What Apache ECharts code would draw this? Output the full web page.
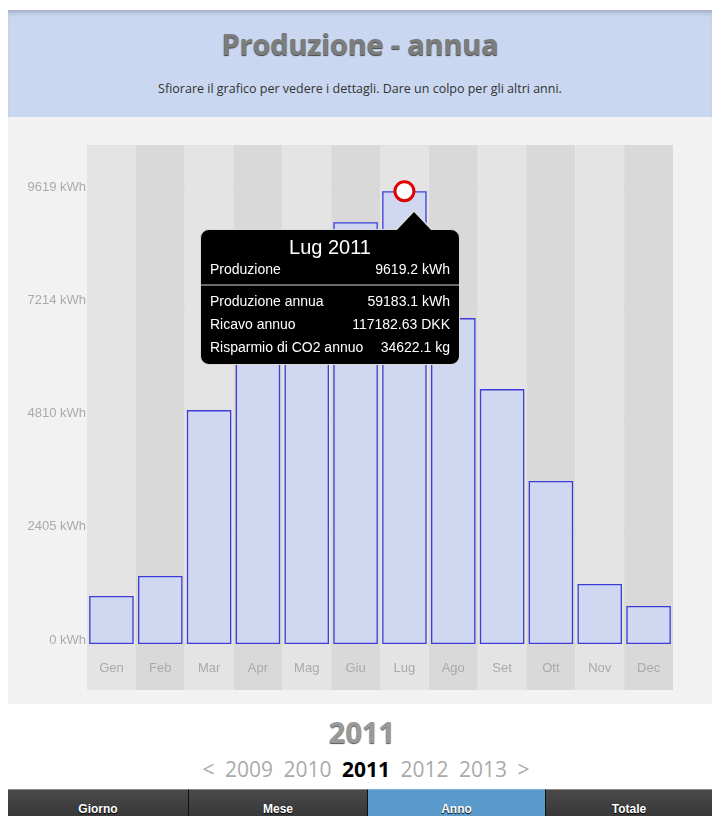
<!DOCTYPE html>
<html>
<head>
<meta charset="utf-8">
<script src="https://cdn.jsdelivr.net/npm/echarts@6/dist/echarts.min.js"></script>
<style>
  html, body { margin:0; padding:0; background:#fff; width:712px; height:816px; overflow:hidden; }
  #header { position:absolute; left:8px; top:10px; width:704px; height:107px; background:#c9d7f0;
    box-shadow: inset 0 5px 5px -3px rgba(60,70,90,0.35); }
  #title { position:absolute; left:0; width:100%; top:14px; text-align:center; font-family:"Open Sans", sans-serif;
    font-weight:700; font-size:29px; color:#7d7d7d; text-shadow:0 1px 1px #444; letter-spacing:-0.2px; }
  #subtitle { position:absolute; left:0; width:100%; top:70px; text-align:center; font-family:"Open Sans", sans-serif;
    font-size:12.5px; color:#333; }
  #panel { position:absolute; left:8px; top:117px; width:704px; height:587px; background:#f2f2f2; }
  #chart { position:absolute; left:0; top:0; width:704px; height:587px; }
  #bigyear { position:absolute; left:0; width:724px; top:712px; text-align:center; font-family:"Open Sans", sans-serif;
    font-weight:700; font-size:29px; color:#9a9a9a; text-shadow:0 1px 1px #555; }
  #years { position:absolute; left:0; width:732px; top:755px; text-align:center; font-family:"Open Sans", sans-serif;
    font-size:21px; color:#aaa; word-spacing:5px; }
  #years b { color:#000; font-weight:700; }
  #tabs { position:absolute; left:8px; top:789px; width:704px; height:40px; }
  .tab { position:absolute; top:0; height:40px; line-height:38px; text-align:center; font-family:"Liberation Sans", Arial, sans-serif;
    font-weight:700; font-size:12px; color:#fff; text-shadow:0 1px 1px #000;
    background:linear-gradient(#4a4a4a, #2e2e2e); border-top:1px solid #8a8a8a; box-sizing:border-box; }
  .tab.sep { border-left:1px solid #111; }
  .tab.active { background:#5b9bcc; border-top:1px solid #7fb3da; }
</style>
</head>
<body>
<div id="header">
  <div id="title">Produzione - annua</div>
  <div id="subtitle">Sfiorare il grafico per vedere i dettagli. Dare un colpo per gli altri anni.</div>
</div>
<div id="panel"><div id="chart"></div></div>
<div id="bigyear">2011</div>
<div id="years">&lt; 2009 2010 <b>2011</b> 2012 2013 &gt;</div>
<div id="tabs">
  <div class="tab" style="left:0;width:180px;">Giorno</div>
  <div class="tab sep" style="left:180px;width:179px;">Mese</div>
  <div class="tab sep active" style="left:359px;width:178px;">Anno</div>
  <div class="tab sep" style="left:537px;width:167px;">Totale</div>
</div>
<script>
// ---- data ----
var year = '2011';
var months = ['Gen','Feb','Mar','Apr','Mag','Giu','Lug','Ago','Set','Ott','Nov','Dec'];
var production = [1019, 1444, 4969, 7400, 7891, 8961, 9619.2, 6923, 5415, 3461, 1274, 807];
var yTicks = [0, 2404.8, 4809.6, 7214.4, 9619.2];
var yMax = 10600;
var selectedIndex = 6;
var summaryLabels = ['Produzione annua', 'Ricavo annuo', 'Risparmio di CO2 annuo'];
var summaryValues = ['59183.1 kWh', '117182.63 DKK', '34622.1 kg'];
var unit = 'kWh';

var chart = echarts.init(document.getElementById('chart'));
var gridLeft = 79, gridWidth = 586;
var font = '"Liberation Sans", Arial, sans-serif';

function tipHtml(idx) {
  var rows = '';
  for (var i = 0; i < summaryLabels.length; i++) {
    rows += '<div style="display:flex;justify-content:space-between;height:23px;line-height:23px;">' +
      '<span>' + summaryLabels[i] + '</span><span>' + summaryValues[i] + '</span></div>';
  }
  return '<div style="position:relative;font-family:' + font.replace(/"/g, "'") + ';color:#fff;">' +
    '<div style="position:absolute;left:186px;top:-25px;width:0;height:0;border-left:18px solid transparent;border-right:18px solid transparent;border-bottom:19px solid #ddd;"></div>' +
    '<div style="position:absolute;left:187px;top:-23px;width:0;height:0;border-left:17px solid transparent;border-right:17px solid transparent;border-bottom:18px solid #000;"></div>' +
    '<div style="text-align:center;font-size:20px;line-height:24px;height:24px;">' + months[idx] + ' ' + year + '</div>' +
    '<div style="display:flex;justify-content:space-between;font-size:14px;height:20px;line-height:20px;">' +
      '<span>Produzione</span><span>' + production[idx] + ' ' + unit + '</span></div>' +
    '<div style="margin:5px -9px 4px -9px;border-top:2px solid #6a6a6a;"></div>' +
    '<div style="font-size:14px;">' + rows + '</div></div>';
}

var option = {
  animation: false,
  grid: [
    { left: gridLeft, top: 28, width: gridWidth, height: 499 },
    { left: gridLeft, top: 527, width: gridWidth, height: 46 }
  ],
  xAxis: [
    { type: 'category', gridIndex: 0, data: months, z: 1,
      axisLine: { show: false }, axisTick: { show: false }, axisLabel: { show: false },
      splitArea: { show: true, interval: 0, areaStyle: { color: ['#e4e4e4', '#d9d9d9'] } } },
    { type: 'category', gridIndex: 1, data: months, z: 0,
      axisLine: { show: false }, axisTick: { show: false },
      axisLabel: { interval: 0, margin: -28, color: '#aaa', fontSize: 13, fontFamily: font },
      splitArea: { show: true, interval: 0, areaStyle: { color: ['#e4e4e4', '#d9d9d9'] } } }
  ],
  yAxis: [
    { type: 'value', gridIndex: 0, min: 0, max: yMax, interval: yTicks[1],
      axisLine: { show: false }, axisTick: { show: false },
      axisLabel: { showMaxLabel: false, margin: 1, color: '#aaa', fontSize: 13, fontFamily: font,
        verticalAlign: 'bottom', lineHeight: 8,
        formatter: function (v) { return Math.round(v) + ' ' + unit; } },
      splitLine: { show: true, showMaxLine: false, lineStyle: { color: '#ababab', width: 1 } } },
    { type: 'value', gridIndex: 1, show: false }
  ],
  tooltip: {
    trigger: 'item', triggerOn: 'none', alwaysShowContent: true, transitionDuration: 0,
    renderMode: 'html', confine: false,
    backgroundColor: '#000', borderColor: '#d8d8d8', borderWidth: 1, padding: [5, 9, 5, 9],
    extraCssText: 'border-radius:9px;box-shadow:none;width:260px;height:136px;box-sizing:border-box;',
    position: [192, 112],
    formatter: function (p) { return tipHtml(p.dataIndex); }
  },
  series: [{
    type: 'bar', xAxisIndex: 0, yAxisIndex: 0, data: production,
    barCategoryGap: '9%',
    itemStyle: { color: '#d0d8f1', borderColor: '#3c3cd8', borderWidth: 1.3 },
    emphasis: { disabled: true },
    markPoint: {
      symbol: 'circle', symbolSize: 19, silent: true,
      itemStyle: { color: '#fff', borderColor: '#e00000', borderWidth: 3 },
      label: { show: false },
      data: [{ coord: [selectedIndex, production[selectedIndex]] }]
    }
  }]
};
chart.setOption(option);
chart.dispatchAction({ type: 'showTip', seriesIndex: 0, dataIndex: selectedIndex });
</script>
</body>
</html>
